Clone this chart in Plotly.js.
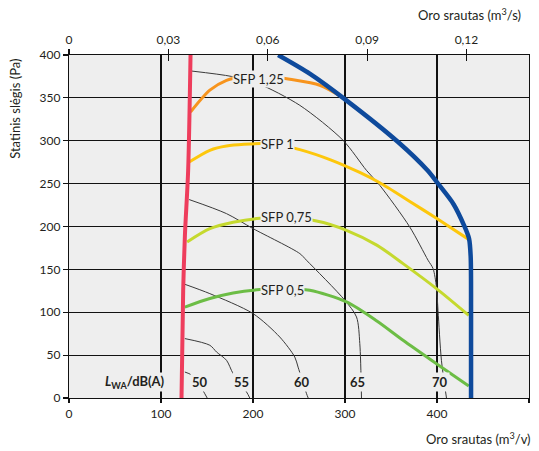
<!DOCTYPE html>
<html>
<head>
<meta charset="utf-8">
<script src="https://cdn.plot.ly/plotly-3.0.1.min.js"></script>
<style>html,body{margin:0;padding:0;background:#fff;}#chart{width:539px;height:451px;}</style>
</head>
<body>
<div id="chart"></div>
<script>
// ---- data (airflow m3/h, static pressure Pa) ----
const redX = [122.3, 124.1, 126.0, 129.5, 132.1];
const redY = [0, 125, 190, 265, 400];

const blueX = [227.3, 262, 300.4, 357.7, 389.6, 401.1, 418.0, 429.5, 434.8, 436.6, 437.0, 437.0];
const blueY = [400, 378, 348, 298.5, 265.5, 250, 226, 201, 186, 165, 100, 0];

const sfp125X = [132.1, 153.1, 171.2, 190, 210, 240, 272.6, 300.6];
const sfp125Y = [333.5, 359, 370.5, 375, 376, 371.7, 364.7, 348.5];

const sfp1X = [130.6, 153.1, 171.2, 209.6, 230, 250.9, 285, 316, 337.8, 370, 399.4, 434.8];
const sfp1Y = [275.2, 288.9, 293.9, 296.7, 294.5, 289.7, 277.5, 263, 251, 229.5, 209.5, 184.7];

const sfp075X = [128.4, 153.1, 178.4, 207.4, 240, 269, 301.6, 335, 363.1, 399.4, 434.5];
const sfp075Y = [182, 197.5, 205, 209.5, 209.5, 206.4, 195.6, 178, 156.7, 127.6, 96.4];

const sfp05X = [125.9, 153.1, 178.4, 207.4, 235, 261.7, 301.6, 335, 363.1, 399.4, 434.5];
const sfp05Y = [106, 116, 122.5, 126.4, 127.5, 125.6, 112, 89.5, 67.3, 40, 14];

const db70X = [133.2, 176.7, 205.6, 250.9, 297.9, 323.3, 337.8, 370.4, 390.3, 395.7, 399.4, 401.1, 404.8, 410.3];
const db70Y = [381.3, 375, 366.6, 341.3, 300.5, 265.5, 248, 199.4, 160.6, 151, 129.4, 102, 44, 0];

const db65X = [130.6, 171.2, 200.1, 250.9, 258.2, 299.8, 312.5, 316.1, 317.9];
const db65Y = [231.4, 215, 197.5, 168.4, 160.6, 114, 94.5, 63.4, 0];

const db60X = [125.9, 153.1, 200.1, 229.1, 245.4, 249, 258.2, 260];
const db60Y = [132.6, 121.7, 98.4, 71.1, 47.8, 36, 5, 0];

const db55X = [125.9, 153.1, 160.4, 171.2, 178.4, 193, 196.5];
const db55Y = [69.3, 61.5, 53.6, 44, 28.4, 7, 0];

const db50X = [125.9, 133, 141, 146, 150.2];
const db50Y = [30.3, 27, 17, 8, 0];

const sfpLabels = ['SFP 1,25', 'SFP 1', 'SFP 0,75', 'SFP 0,5'];
const sfpLabelX = [177.7, 207.4, 207.4, 207.4];
const sfpLabelY = [372.5, 296.7, 211, 126.4];

const dbLabels = ['50', '55', '60', '65', '70'];
const dbLabelX = [142.2, 187.5, 253.4, 313.1, 403];
const dbLabelY = [18.7, 18.7, 18.7, 18.7, 18.7];

const xTickVals = [0, 100, 200, 300, 400, 500];
const xTickText = ['0', '100', '200', '300', '400', '500'];
const yTickVals = [0, 50, 100, 150, 200, 250, 300, 350, 400];
const yTickText = ['0', '50', '100', '150', '200', '250', '300', '350', '400'];
const topTickVals = [0, 0.03, 0.06, 0.09, 0.12];
const topTickText = ['0', '0,03', '0,06', '0,09', '0,12'];

// ---- styling ----
const FONT = 'Lato, "Noto Sans", "DejaVu Sans", sans-serif';
const TXT = '#231f20';
const PLOTBG = '#eeeeee';
const thin = {color: '#3a3a3a', width: 1};

function line(x, y, color, width) {
  return {type: 'scatter', mode: 'lines', x: x, y: y, line: {color: color, width: width, shape: 'spline', smoothing: 0.8},
          hoverinfo: 'skip', showlegend: false, xaxis: 'x', yaxis: 'y'};
}

const traces = [
  line(db70X, db70Y, thin.color, thin.width),
  line(db65X, db65Y, thin.color, thin.width),
  line(db60X, db60Y, thin.color, thin.width),
  line(db55X, db55Y, thin.color, thin.width),
  line(db50X, db50Y, thin.color, thin.width),
  line(sfp125X, sfp125Y, '#f7941d', 3),
  line(sfp1X, sfp1Y, '#fdc70c', 3),
  line(sfp075X, sfp075Y, '#c5d92e', 3),
  line(sfp05X, sfp05Y, '#6cbd45', 3),
  line(blueX, blueY, '#0e4a9c', 4.5),
  line(redX, redY, '#ee3d5c', 4),
  {type: 'scatter', mode: 'lines', x: [null], y: [null], xaxis: 'x2', yaxis: 'y', hoverinfo: 'skip', showlegend: false},
  {type: 'scatter', mode: 'lines', x: [null], y: [null], xaxis: 'x3', yaxis: 'y', hoverinfo: 'skip', showlegend: false}
];

const annotations = [];
sfpLabels.forEach((t, i) => annotations.push({
  x: sfpLabelX[i], y: sfpLabelY[i], xref: 'x', yref: 'y', text: t, showarrow: false,
  xanchor: 'left', yanchor: 'middle', bgcolor: PLOTBG, borderpad: 0,
  font: {family: FONT, size: 13, color: TXT}
}));
dbLabels.forEach((t, i) => annotations.push({
  x: dbLabelX[i], y: dbLabelY[i], xref: 'x', yref: 'y', text: '<b>' + t + '</b>', showarrow: false,
  xanchor: 'center', yanchor: 'middle', bgcolor: PLOTBG, borderpad: 1,
  font: {family: FONT, size: 13, color: TXT}
}));
annotations.push({
  x: 71.6, y: 18.7, xref: 'x', yref: 'y', text: '<b><i>L</i><sub>WA</sub>/dB(A)</b>', showarrow: false,
  xanchor: 'center', yanchor: 'middle', bgcolor: PLOTBG, borderpad: 0,
  font: {family: FONT, size: 13, color: TXT}
});
annotations.push({
  x: 0.987, y: 1.117, xref: 'paper', yref: 'paper', text: 'Oro srautas (m<sup>3</sup>/s)', showarrow: false,
  xanchor: 'right', yanchor: 'middle', font: {family: FONT, size: 13, color: TXT}
});
annotations.push({
  x: 1.009, y: -0.1175, xref: 'paper', yref: 'paper', text: 'Oro srautas (m<sup>3</sup>/v)', showarrow: false,
  xanchor: 'right', yanchor: 'middle', font: {family: FONT, size: 13, color: TXT}
});
annotations.push({
  x: -0.1174, y: 0.843, xref: 'paper', yref: 'paper', text: 'Statinis slėgis (Pa)', showarrow: false,
  textangle: -90, xanchor: 'center', yanchor: 'middle', font: {family: FONT, size: 13, color: TXT}
});

const layout = {
  width: 539, height: 451,
  margin: {l: 69, r: 10, t: 55, b: 53, pad: 0},
  paper_bgcolor: '#ffffff', plot_bgcolor: PLOTBG,
  font: {family: FONT, size: 12, color: TXT},
  showlegend: false,
  xaxis: {
    range: [0, 500], tickvals: xTickVals, ticktext: xTickText,
    showgrid: true, gridcolor: '#111', gridwidth: 1.1, zeroline: false,
    showline: true, linecolor: '#111', linewidth: 1.1, mirror: true,
    ticks: 'outside', ticklen: 4, tickcolor: '#111', tickwidth: 1.1,
    tickfont: {family: FONT, size: 12, color: TXT}, fixedrange: true
  },
  xaxis2: {
    overlaying: 'x', side: 'top', anchor: 'y', range: [0, 500 / 3600],
    tickvals: topTickVals, ticktext: topTickText, showgrid: false, zeroline: false,
    showline: false, ticks: 'outside', ticklen: 5, tickcolor: '#111', tickwidth: 1.1,
    tickfont: {family: FONT, size: 12, color: TXT}
  },
  xaxis3: {
    overlaying: 'x', side: 'top', anchor: 'y', range: [0, 500 / 3600],
    tickvals: topTickVals, showticklabels: false, showgrid: false, zeroline: false,
    showline: false, ticks: 'inside', ticklen: 6, tickcolor: '#111', tickwidth: 1.1
  },
  yaxis: {
    range: [0, 400], tickvals: yTickVals, ticktext: yTickText,
    showgrid: true, gridcolor: '#111', gridwidth: 1.1, zeroline: false,
    showline: true, linecolor: '#111', linewidth: 1.1, mirror: true,
    ticks: 'outside', ticklen: 5, tickcolor: '#111', tickwidth: 1.1,
    tickfont: {family: FONT, size: 12, color: TXT}, fixedrange: true
  },
  annotations: annotations
};

Plotly.newPlot('chart', traces, layout, {displayModeBar: false, staticPlot: true});
</script>
</body>
</html>
